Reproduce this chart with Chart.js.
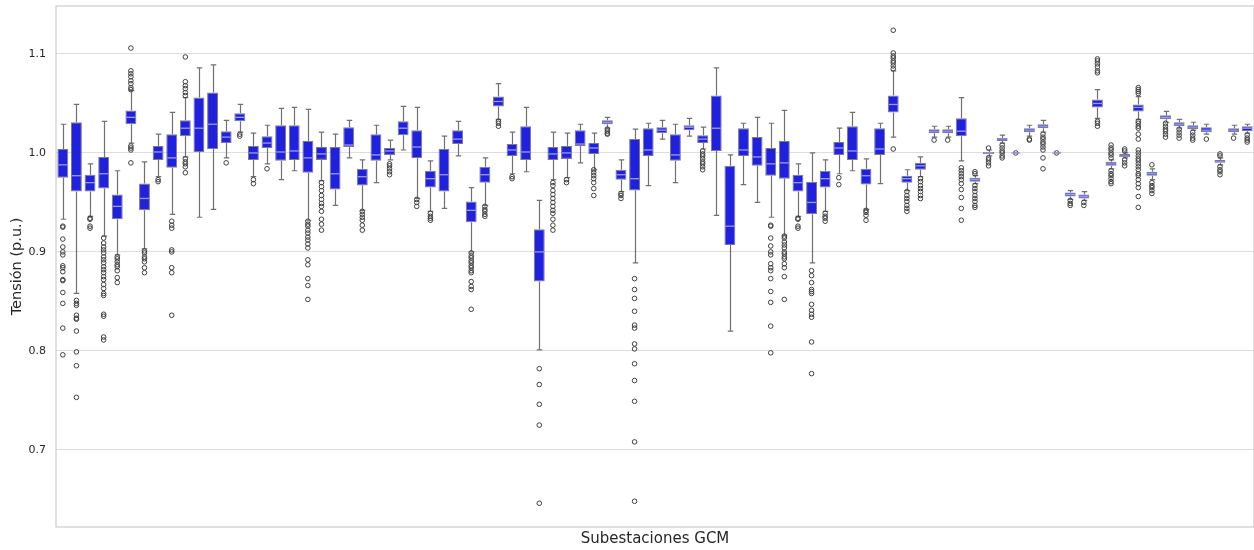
<!DOCTYPE html>
<html>
<head>
<meta charset="utf-8">
<script src="https://cdn.jsdelivr.net/npm/chart.js@4.4.1/dist/chart.umd.min.js"></script>
<style>
  html, body { margin: 0; padding: 0; background: #ffffff; }
  #wrap { width: 1254px; height: 550px; position: relative; }
</style>
</head>
<body>
<div id="wrap"><canvas id="chart"></canvas></div>
<script>
// Estadisticos (una caja por subestacion)
const whiskerHigh = [1.029,1.049,0.989,1.032,0.982,1.063,0.991,1.019,1.041,1.056,1.086,1.089,1.033,1.049,1.020,1.028,1.045,1.046,1.044,1.021,1.019,1.033,0.993,1.028,1.013,1.047,1.046,0.992,1.017,1.032,0.965,0.995,1.070,1.021,1.046,0.952,1.021,1.020,1.029,1.020,1.036,0.993,1.024,1.030,1.033,1.029,1.035,1.026,1.086,0.998,1.030,1.036,1.030,1.043,0.989,1.000,0.993,1.025,1.041,0.994,1.030,1.083,0.983,0.996,1.027,1.027,1.056,0.977,1.003,1.018,1.000,1.028,1.033,1.000,0.962,0.961,1.064,0.993,1.000,1.057,0.984,1.042,1.034,1.031,1.029,0.995,1.028,1.029];
const q3 = [1.004,1.031,0.978,0.996,0.958,1.043,0.969,1.007,1.019,1.033,1.056,1.061,1.022,1.040,1.007,1.017,1.028,1.028,1.012,1.006,1.006,1.026,0.984,1.019,1.005,1.032,1.023,0.982,1.004,1.023,0.951,0.986,1.057,1.009,1.027,0.923,1.006,1.007,1.023,1.010,1.033,0.983,1.014,1.025,1.026,1.019,1.028,1.018,1.058,0.987,1.025,1.016,1.005,1.012,0.978,0.971,0.982,1.011,1.027,0.984,1.025,1.058,0.977,0.990,1.024,1.024,1.035,0.975,1.001,1.015,1.000,1.025,1.029,1.000,0.960,0.958,1.054,0.991,0.999,1.049,0.981,1.038,1.031,1.028,1.026,0.993,1.025,1.027];
const median = [0.988,0.977,0.970,0.979,0.946,1.036,0.954,1.001,0.995,1.025,1.025,1.029,1.016,1.036,1.000,1.010,1.001,1.002,0.995,0.999,0.979,1.008,0.976,0.998,1.002,1.025,1.006,0.974,0.978,1.014,0.942,0.978,1.052,1.003,1.001,0.900,0.999,1.000,1.009,1.005,1.031,0.978,0.974,1.003,1.023,0.998,1.026,1.014,1.025,0.926,1.003,0.996,0.989,0.990,0.970,0.950,0.974,1.005,1.002,0.977,1.004,1.049,0.974,0.987,1.022,1.022,1.022,0.973,1.000,1.014,1.000,1.023,1.027,1.000,0.958,0.956,1.050,0.989,0.997,1.046,0.979,1.036,1.029,1.026,1.023,0.991,1.023,1.025];
const q1 = [0.975,0.961,0.961,0.964,0.933,1.029,0.942,0.993,0.985,1.017,1.001,1.004,1.010,1.032,0.993,1.005,0.992,0.993,0.980,0.993,0.963,1.006,0.967,0.992,0.998,1.018,0.995,0.965,0.961,1.009,0.930,0.970,1.047,0.997,0.993,0.870,0.993,0.994,1.007,0.999,1.029,0.973,0.962,0.997,1.020,0.992,1.023,1.010,1.002,0.907,0.997,0.987,0.977,0.974,0.961,0.938,0.965,0.998,0.993,0.968,0.998,1.041,0.970,0.983,1.020,1.020,1.017,0.971,0.999,1.012,1.000,1.021,1.025,1.000,0.956,0.954,1.046,0.987,0.996,1.042,0.977,1.034,1.027,1.024,1.021,0.990,1.021,1.022];
const whiskerLow = [0.933,0.858,0.936,0.916,0.897,1.010,0.903,0.976,0.938,0.996,0.935,0.943,0.995,1.021,0.976,0.989,0.973,0.982,0.932,0.972,0.947,0.995,0.942,0.970,0.993,1.003,0.954,0.941,0.944,0.997,0.900,0.947,1.034,0.979,0.981,0.801,0.973,0.975,0.990,0.983,1.025,0.961,0.889,0.967,1.014,0.970,1.017,1.004,0.937,0.820,0.968,0.950,0.935,0.917,0.936,0.889,0.941,0.979,0.982,0.943,0.969,1.016,0.962,0.976,1.016,1.016,0.992,0.969,0.997,1.010,1.000,1.017,1.021,1.000,0.953,0.952,1.035,0.984,0.995,1.034,0.973,1.031,1.025,1.023,1.019,0.988,1.019,1.020];

// Valores atipicos por subestacion
const outliers = [
  [0.926,0.925,0.913,0.905,0.900,0.897,0.886,0.884,0.880,0.872,0.871,0.859,0.848,0.823,0.796],
  [0.851,0.848,0.846,0.836,0.833,0.832,0.820,0.799,0.785,0.753],
  [0.934,0.933,0.926,0.924],
  [0.914,0.909,0.905,0.902,0.899,0.895,0.892,0.889,0.885,0.882,0.879,0.875,0.872,0.867,0.863,0.858,0.856,0.837,0.835,0.814,0.811],
  [0.895,0.893,0.890,0.887,0.885,0.881,0.874,0.869],
  [1.106,1.083,1.080,1.077,1.073,1.070,1.066,1.064,1.007,1.005,1.003,0.990],
  [0.901,0.899,0.895,0.893,0.890,0.884,0.879],
  [0.973,0.971],
  [0.931,0.927,0.924,0.902,0.900,0.884,0.879,0.836],
  [1.097,1.072,1.068,1.065,1.061,1.058,0.994,0.991,0.989,0.986,0.980],
  [],
  [],
  [0.990],
  [1.019,1.017],
  [0.973,0.969],
  [0.984],
  [],
  [],
  [0.931,0.928,0.926,0.922,0.919,0.915,0.912,0.908,0.904,0.892,0.887,0.873,0.866,0.852],
  [0.970,0.966,0.962,0.957,0.953,0.949,0.946,0.941,0.933,0.928,0.922],
  [],
  [],
  [0.941,0.938,0.935,0.932,0.927,0.922],
  [],
  [0.989,0.987,0.984,0.981,0.978],
  [],
  [0.953,0.950,0.946],
  [0.939,0.936,0.934,0.932],
  [],
  [],
  [0.899,0.896,0.894,0.891,0.889,0.886,0.884,0.881,0.879,0.870,0.865,0.862,0.842],
  [0.946,0.943,0.941,0.938,0.936],
  [1.032,1.030,1.027],
  [0.976,0.974],
  [],
  [0.782,0.766,0.746,0.725,0.646],
  [0.970,0.967,0.962,0.958,0.954,0.950,0.946,0.942,0.939,0.933,0.927,0.922],
  [0.973,0.970],
  [],
  [0.983,0.980,0.977,0.974,0.970,0.964,0.957],
  [1.024,1.022,1.020,1.019],
  [0.959,0.957,0.954],
  [0.873,0.862,0.853,0.840,0.826,0.823,0.807,0.802,0.787,0.770,0.749,0.708,0.648],
  [],
  [],
  [],
  [],
  [1.002,0.999,0.997,0.994,0.991,0.989,0.986,0.983],
  [],
  [],
  [],
  [],
  [0.927,0.926,0.914,0.906,0.900,0.897,0.888,0.884,0.881,0.873,0.860,0.849,0.825,0.798],
  [0.916,0.914,0.910,0.907,0.904,0.900,0.898,0.895,0.893,0.888,0.884,0.875,0.852],
  [0.934,0.933,0.926,0.924],
  [0.881,0.876,0.869,0.862,0.860,0.858,0.847,0.841,0.837,0.834,0.809,0.777],
  [0.939,0.936,0.934,0.931],
  [0.975,0.968],
  [],
  [0.942,0.940,0.937,0.932],
  [],
  [1.124,1.101,1.098,1.096,1.093,1.091,1.088,1.085,1.004],
  [0.961,0.957,0.954,0.951,0.947,0.944,0.941],
  [0.974,0.971,0.967,0.964,0.961,0.957,0.954],
  [1.013],
  [1.013],
  [0.985,0.982,0.979,0.976,0.973,0.969,0.963,0.955,0.944,0.932],
  [0.981,0.979,0.967,0.964,0.961,0.957,0.954,0.951,0.947,0.945],
  [1.005,0.995,0.993,0.990,0.987],
  [1.008,1.005,1.002,1.000,0.997,0.995],
  [1.000],
  [1.014,1.013],
  [1.019,1.016,1.014,1.011,1.009,1.006,1.003,0.995,0.984],
  [1.000],
  [0.952,0.949,0.947],
  [0.950,0.947],
  [1.095,1.093,1.090,1.087,1.083,1.081,1.032,1.030,1.027],
  [1.008,1.005,1.003,1.000,0.998,0.995,0.982,0.979,0.977,0.974,0.971,0.969],
  [1.004,1.002,0.993,0.990,0.987],
  [1.066,1.064,1.062,1.060,1.032,1.030,1.027,1.025,1.019,1.014,1.003,1.000,0.997,0.994,0.992,0.989,0.986,0.983,0.979,0.977,0.973,0.969,0.965,0.956,0.945],
  [0.988,0.970,0.967,0.965,0.962,0.959],
  [1.030,1.027,1.024,1.022,1.019,1.016],
  [1.024,1.021,1.018,1.015],
  [1.021,1.018,1.015,1.013],
  [1.014],
  [0.999,0.997,0.986,0.983,0.981,0.978],
  [1.015],
  [1.018,1.015,1.013,1.011]
];

const stations = q1.map((_, i) => 'SE ' + (i + 1));
const yTicks = [0.7, 0.8, 0.9, 1.0, 1.1];
const yMin = 0.622;
const yMax = 1.1485;

// Colores
const boxColor = '#2020df';
const lineColor = '#707070';
const medianColor = '#9c9cf0';
const frameColor = '#cccccc';
const textColor = '#262626';

// Dibuja bigotes, topes y medianas con las escalas del grafico
const boxplotExtras = {
    id: 'boxplotExtras',
    beforeDatasetsDraw(chart) {
        const { ctx, scales: { x, y } } = chart;
        const band = x.getPixelForValue(1) - x.getPixelForValue(0);
        const capHalf = band * 0.2;
        ctx.save();
        ctx.strokeStyle = lineColor;
        ctx.lineWidth = 1.2;
        stations.forEach((s, i) => {
            const cx = Math.round(x.getPixelForValue(i)) + 0.5;
            const yHi = y.getPixelForValue(whiskerHigh[i]);
            const yQ3 = y.getPixelForValue(q3[i]);
            const yQ1 = y.getPixelForValue(q1[i]);
            const yLo = y.getPixelForValue(whiskerLow[i]);
            ctx.beginPath();
            ctx.moveTo(cx, yHi); ctx.lineTo(cx, yQ3);
            ctx.moveTo(cx, yQ1); ctx.lineTo(cx, yLo);
            ctx.moveTo(cx - capHalf, yHi); ctx.lineTo(cx + capHalf, yHi);
            ctx.moveTo(cx - capHalf, yLo); ctx.lineTo(cx + capHalf, yLo);
            ctx.stroke();
        });
        ctx.restore();
    },
    afterDatasetsDraw(chart) {
        const { ctx, chartArea, scales: { x, y } } = chart;
        const band = x.getPixelForValue(1) - x.getPixelForValue(0);
        const half = band * 0.4 - 1;
        ctx.save();
        ctx.strokeStyle = medianColor;
        ctx.lineWidth = 1.3;
        stations.forEach((s, i) => {
            const cx = x.getPixelForValue(i);
            const ym = y.getPixelForValue(median[i]);
            ctx.beginPath();
            ctx.moveTo(cx - half, ym);
            ctx.lineTo(cx + half, ym);
            ctx.stroke();
        });
        // Marco del area de trazado
        ctx.strokeStyle = frameColor;
        ctx.lineWidth = 1.2;
        ctx.strokeRect(chartArea.left, chartArea.top, chartArea.right - chartArea.left, chartArea.bottom - chartArea.top);
        ctx.restore();
    }
};

const outlierPoints = [];
outliers.forEach((list, i) => {
    list.forEach(v => outlierPoints.push({ x: stations[i], y: v }));
});

new Chart(document.getElementById('chart'), {
    type: 'bar',
    data: {
        labels: stations,
        datasets: [
            {
                type: 'line',
                label: 'Atipicos',
                data: outlierPoints,
                showLine: false,
                pointRadius: 2.3,
                pointBorderWidth: 1,
                pointBorderColor: '#3f3f3f',
                pointBackgroundColor: 'rgba(0,0,0,0)',
                clip: false,
                order: 0
            },
            {
                label: 'Caja',
                data: stations.map((s, i) => [q1[i], q3[i]]),
                backgroundColor: boxColor,
                borderColor: '#7a7a8a',
                borderWidth: 1,
                borderSkipped: false,
                barPercentage: 0.8,
                categoryPercentage: 1.0,
                order: 1
            }
        ]
    },
    options: {
        responsive: true,
        maintainAspectRatio: false,
        animation: false,
        events: [],
        layout: { autoPadding: false, padding: { top: 6, right: -1, bottom: 0, left: 0 } },
        plugins: {
            legend: { display: false },
            tooltip: { enabled: false }
        },
        scales: {
            x: {
                type: 'category',
                offset: true,
                grid: { display: false },
                border: { display: false },
                ticks: { display: false },
                title: {
                    display: true,
                    text: 'Subestaciones GCM',
                    color: textColor,
                    font: { family: 'DejaVu Sans', size: 15 },
                    padding: { top: 0, bottom: 2 }
                },
                afterFit(scale) {
                    scale.height = 23;
                    scale.paddingLeft = 0;
                    scale.paddingRight = 0;
                }
            },
            y: {
                min: yMin,
                max: yMax,
                grid: { color: '#dddddd', lineWidth: 1, drawTicks: false },
                border: { display: false },
                afterBuildTicks(scale) { scale.ticks = yTicks.map(v => ({ value: v })); },
                ticks: {
                    padding: 10,
                    color: textColor,
                    font: { family: 'DejaVu Sans', size: 11 },
                    callback: v => Number(v).toFixed(1)
                },
                title: {
                    display: true,
                    text: 'Tensión (p.u.)',
                    color: textColor,
                    font: { family: 'DejaVu Sans', size: 14.5 },
                    padding: { top: 9, bottom: 0 }
                },
                afterFit(scale) {
                    scale.width = 56;
                    scale.paddingTop = 0;
                    scale.paddingBottom = 0;
                }
            }
        }
    },
    plugins: [boxplotExtras]
});
</script>
</body>
</html>
